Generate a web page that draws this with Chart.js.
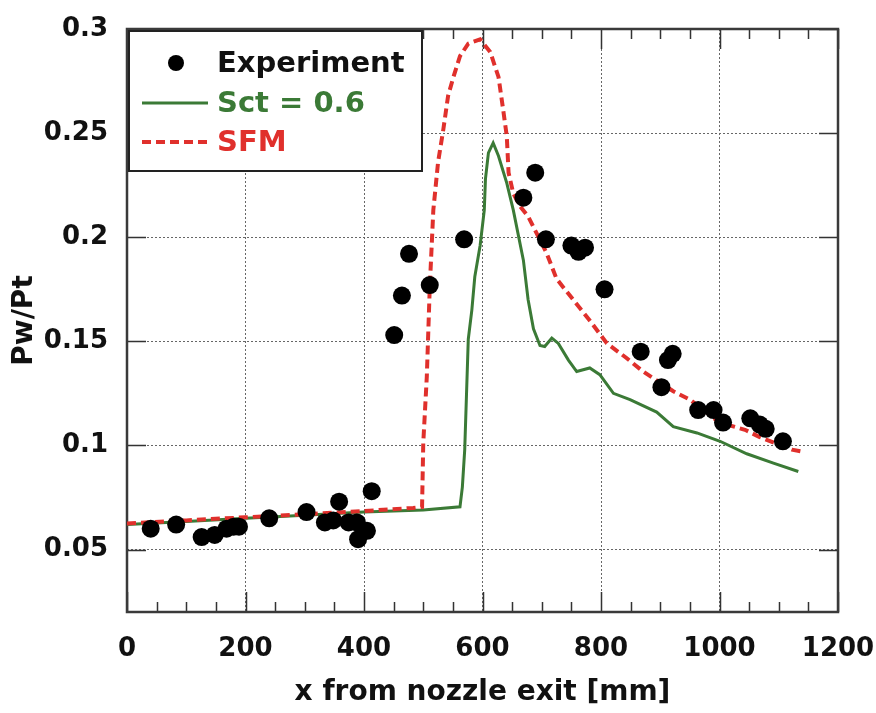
<!DOCTYPE html>
<html lang="en">
<head>
  <meta charset="UTF-8">
  <title>Pw/Pt vs x from nozzle exit</title>
  <script src="https://cdn.jsdelivr.net/npm/chart.js"></script>
  <style>
    body { margin: 0; background: #fff; }
    canvas { display: block; }
  </style>
</head>
<body>
  <canvas id="chart" width="876" height="713"></canvas>

  <script>
    // Experiment (dots)
    const expX = [40, 83, 126, 148, 168, 180, 189, 240, 303, 334, 348, 358, 374, 388, 390, 405, 413,
                  451, 464, 476, 511, 569, 669, 689, 707, 750, 762, 773, 806,
                  867, 902, 913, 921, 964, 990, 1006, 1052, 1068, 1078, 1107];
    const expY = [0.060, 0.062, 0.056, 0.057, 0.060, 0.061, 0.061, 0.065, 0.068, 0.063, 0.064, 0.073, 0.063, 0.063, 0.055, 0.059, 0.078,
                  0.153, 0.172, 0.192, 0.177, 0.199, 0.219, 0.231, 0.199, 0.196, 0.193, 0.195, 0.175,
                  0.145, 0.128, 0.141, 0.144, 0.117, 0.117, 0.111, 0.113, 0.110, 0.108, 0.102];

    // Sct = 0.6 (solid green)
    const sctX = [0, 100, 200, 300, 400, 500, 562, 566, 570, 576, 582, 587, 596, 603, 605, 610, 618, 627,
                  641, 652, 669, 677, 686, 697, 705, 717, 728, 745, 759, 781, 798, 821, 849, 894,
                  922, 962, 1001, 1046, 1091, 1133];
    const sctY = [0.062, 0.0635, 0.065, 0.0665, 0.068, 0.069, 0.0705, 0.080, 0.098, 0.151, 0.165, 0.181, 0.196, 0.213, 0.228, 0.2405, 0.2453, 0.239,
                  0.226, 0.213, 0.189, 0.170, 0.156, 0.148, 0.1475, 0.1516, 0.149, 0.141, 0.1355, 0.1372, 0.134, 0.125, 0.122, 0.116,
                  0.109, 0.106, 0.102, 0.096, 0.0915, 0.0875];

    // SFM (dashed red)
    const sfmX = [0, 100, 200, 300, 400, 483, 498, 500, 506, 511, 517, 525, 534, 542, 551, 562, 576, 596,
                  613, 627, 635, 641, 644, 652, 663, 677, 708, 725, 753, 781, 810, 843, 871, 922, 950,
                  1000, 1043, 1068, 1122, 1140];
    const sfmY = [0.0625, 0.064, 0.0655, 0.067, 0.0685, 0.070, 0.0705, 0.101, 0.133, 0.176, 0.213, 0.236, 0.252, 0.268, 0.277, 0.287, 0.293, 0.295,
                  0.289, 0.277, 0.261, 0.2485, 0.231, 0.221, 0.215, 0.210, 0.1925, 0.180, 0.170, 0.160, 0.149, 0.142, 0.1355, 0.126, 0.122,
                  0.111, 0.1075, 0.104, 0.098, 0.097];

    const xTicks = [0, 200, 400, 600, 800, 1000, 1200];
    const yTicks = [0.05, 0.1, 0.15, 0.2, 0.25, 0.3];
    const yTickLabels = ['0.05', '0.1', '0.15', '0.2', '0.25', '0.3'];

    const GREEN = '#3b7a36';
    const RED = '#e0302c';
    const FONT = '"DejaVu Sans", Arial, sans-serif';

    const toPoints = (xs, ys) => xs.map((x, i) => ({ x: x, y: ys[i] }));

    // frame box with inward ticks
    const framePlugin = {
      id: 'frame',
      beforeDatasetsDraw(chart) {
        const { ctx, chartArea: a, scales: { x, y } } = chart;
        ctx.save();
        ctx.strokeStyle = '#333';
        ctx.lineWidth = 1.5;
        ctx.beginPath();
        for (let v = 0; v <= 1200; v += 50) {
          const px = Math.round(x.getPixelForValue(v)) + 0.5;
          const len = v % 200 === 0 ? 20 : 10;
          ctx.moveTo(px, a.bottom); ctx.lineTo(px, a.bottom - len);
          ctx.moveTo(px, a.top); ctx.lineTo(px, a.top + len);
        }
        yTicks.forEach(v => {
          const py = Math.round(y.getPixelForValue(v)) + 0.5;
          ctx.moveTo(a.left, py); ctx.lineTo(a.left + 19, py);
          ctx.moveTo(a.right, py); ctx.lineTo(a.right - 19, py);
        });
        ctx.stroke();
        ctx.lineWidth = 2.5;
        ctx.strokeStyle = '#3a3a3a';
        ctx.strokeRect(a.left, a.top, a.right - a.left, a.bottom - a.top);
        ctx.restore();
      }
    };

    // boxed legend in the top-left corner
    const legendPlugin = {
      id: 'boxLegend',
      afterDraw(chart) {
        const { ctx, chartArea: a } = chart;
        const bx = a.left + 2, by = a.top + 2, bw = 293, bh = 140;
        ctx.save();
        ctx.fillStyle = '#fff';
        ctx.fillRect(bx, by, bw, bh);
        ctx.strokeStyle = '#222';
        ctx.lineWidth = 2;
        ctx.strokeRect(bx, by, bw, bh);

        ctx.font = 'bold 29px ' + FONT;
        ctx.textBaseline = 'middle';
        ctx.textAlign = 'left';
        const rows = [by + 32, by + 72, by + 111];
        const textX = bx + 88;
        chart.data.datasets.forEach((ds, i) => {
          const ry = rows[i];
          if (ds.showLine) {
            ctx.strokeStyle = ds.borderColor;
            ctx.lineWidth = ds.borderWidth;
            ctx.setLineDash(ds.borderDash || []);
            ctx.beginPath();
            ctx.moveTo(bx + 13, ry);
            ctx.lineTo(bx + 79, ry);
            ctx.stroke();
            ctx.setLineDash([]);
          } else {
            ctx.fillStyle = ds.pointBackgroundColor;
            ctx.beginPath();
            ctx.arc(bx + 47, ry, 8, 0, Math.PI * 2);
            ctx.fill();
          }
          ctx.fillStyle = ds.labelColor;
          ctx.fillText(ds.label, textX, ry + 1);
        });
        ctx.restore();
      }
    };

    new Chart(document.getElementById('chart'), {
      type: 'scatter',
      data: {
        datasets: [
          {
            label: 'Experiment',
            data: toPoints(expX, expY),
            showLine: false,
            pointRadius: 9,
            pointBackgroundColor: '#000',
            pointBorderWidth: 0,
            labelColor: '#111',
            order: 1
          },
          {
            label: 'Sct = 0.6',
            data: toPoints(sctX, sctY),
            showLine: true,
            borderColor: GREEN,
            borderWidth: 3,
            pointRadius: 0,
            tension: 0,
            labelColor: GREEN,
            order: 3
          },
          {
            label: 'SFM',
            data: toPoints(sfmX, sfmY),
            showLine: true,
            borderColor: RED,
            borderWidth: 4,
            borderDash: [9, 5],
            pointRadius: 0,
            tension: 0,
            labelColor: RED,
            order: 2
          }
        ]
      },
      options: {
        responsive: false,
        animation: false,
        layout: { padding: { left: 0, top: 29, right: 38, bottom: 0 } },
        plugins: {
          legend: { display: false },
          tooltip: { enabled: false }
        },
        scales: {
          x: {
            type: 'linear',
            min: 0,
            max: 1200,
            afterBuildTicks: s => { s.ticks = xTicks.map(v => ({ value: v })); },
            afterFit: s => { s.height = 101; s.paddingLeft = 0; s.paddingRight = 0; },
            grid: { color: '#666', lineWidth: 1, drawTicks: false },
            border: { display: false, dash: [2, 2] },
            ticks: {
              padding: 22,
              color: '#111',
              font: { family: FONT, size: 26, weight: 'bold' },
              callback: v => String(v)
            },
            title: {
              display: true,
              text: 'x from nozzle exit [mm]',
              color: '#111',
              font: { family: FONT, size: 28, weight: 'bold' },
              padding: { top: 0, bottom: 3 }
            }
          },
          y: {
            min: 0.02,
            max: 0.3,
            afterBuildTicks: s => { s.ticks = yTicks.map(v => ({ value: v })); },
            afterFit: s => { s.width = 127; s.paddingTop = 0; s.paddingBottom = 0; },
            grid: { color: '#666', lineWidth: 1, drawTicks: false },
            border: { display: false, dash: [2, 2] },
            ticks: {
              padding: 19,
              color: '#111',
              font: { family: FONT, size: 26, weight: 'bold' },
              callback: (v, i) => yTickLabels[i]
            },
            title: {
              display: true,
              text: 'Pw/Pt',
              color: '#111',
              font: { family: FONT, size: 28, weight: 'bold' },
              padding: { top: 8, bottom: 0 }
            }
          }
        }
      },
      plugins: [framePlugin, legendPlugin]
    });
  </script>
</body>
</html>
